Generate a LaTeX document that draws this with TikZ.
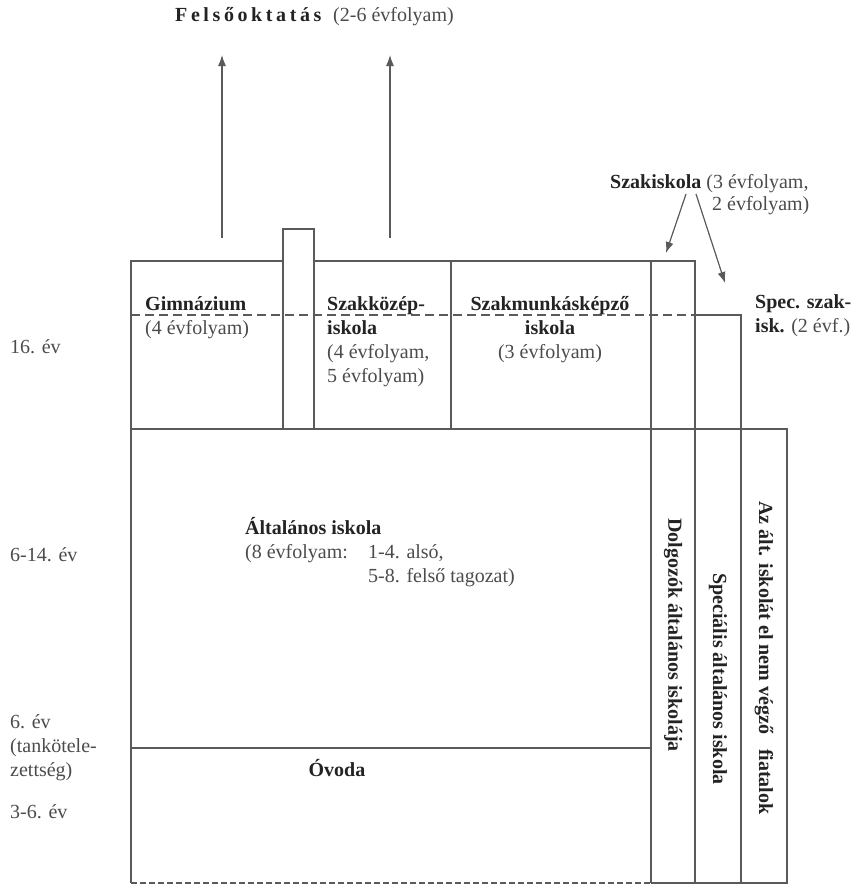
\documentclass[tikz,border=0pt]{standalone}
\usepackage{fontspec}
\setmainfont{Liberation Serif}
\newfontfamily\spacedfont[LetterSpace=18]{Liberation Serif}
\usetikzlibrary{arrows.meta}
\definecolor{linegray}{RGB}{90,90,90}
\definecolor{txtgray}{RGB}{75,75,75}
\definecolor{txtdark}{RGB}{35,35,35}
\begin{document}
\begin{tikzpicture}[x=1pt,y=-1pt,
  ln/.style={draw=linegray, line width=1.2pt},
  dashline/.style={draw=linegray, line width=1.2pt, dash pattern=on 9pt off 5pt},
  dashbottom/.style={draw=linegray, line width=1.2pt, dash pattern=on 6pt off 3pt},
  arr/.style={draw=linegray, line width=1.2pt, -{Latex[length=11pt,width=8pt]}},
  t/.style={inner sep=0pt, font=\fontsize{20}{24}\selectfont, text=txtgray},
  tb/.style={inner sep=0pt, font=\fontsize{20}{24}\selectfont\bfseries, text=txtdark},
  lw/.style={anchor=base west},
  lc/.style={anchor=base}]
\useasboundingbox (0,0) rectangle (853,886);
% ---- boxes ----
% Gimnazium
\draw[ln] (131,429) -- (131,261) -- (283,261);
% narrow box
\draw[ln] (283,429) -- (283,229) -- (314,229) -- (314,429);
% Szakkozep, Szakmunkas, Dolgozok top
\draw[ln] (314,261) -- (695,261) -- (695,883);
\draw[ln] (451,261) -- (451,429);
\draw[ln] (651,261) -- (651,883);
% dashed line across the upper boxes
\draw[dashline] (131,315) -- (695,315);
\draw[ln] (695,315) -- (741,315) -- (741,883);
% lower block
\draw[ln] (131,429) -- (787,429) -- (787,883) -- (651,883);
\draw[ln] (131,429) -- (131,883);
\draw[ln] (131,748) -- (651,748);
\draw[dashbottom] (131,883) -- (651,883);
% ---- arrows up ----
\coordinate (g0) at (222,238);
\coordinate (g1) at (222,55);
\coordinate (s0) at (390,238);
\coordinate (s1) at (390,55);
\draw[arr] (g0) -- (g1);
\draw[arr] (s0) -- (s1);
% ---- title ----
\node[tb,lw] (felso) at (175,21) {\spacedfont\bfseries Felsőoktatás};
\node[t,lw] (felsoev) at (333,21) {(2-6 évfolyam)};
% ---- Szakiskola ----
\node[t,lw] (szakisk) at (610,188) {\textbf{\textcolor{txtdark}{Szakiskola}} (3 évfolyam,};
\node[t,lw] (szakisk2) at (712,210) {2 évfolyam)};
\coordinate (a0) at (686,194);
\coordinate (a1) at (666,253);
\coordinate (b0) at (696,194);
\coordinate (b1) at (725,283);
\draw[arr] (a0) -- (a1);
\draw[arr] (b0) -- (b1);
% ---- Spec. szak ----
\node[tb,lw] (spec1) at (755,308) {Spec. szak-};
\node[t,lw] (spec2) at (755,332) {\textbf{\textcolor{txtdark}{isk.}} (2 évf.)};
% ---- upper box texts ----
\node[tb,lw] (gim1) at (145,310) {Gimnázium};
\node[t,lw] (gim2) at (145,334) {(4 évfolyam)};
\node[tb,lw] (szk1) at (327,310) {Szakközép-};
\node[tb,lw] (szk2) at (327,334) {iskola};
\node[t,lw] (szk3) at (327,358) {(4 évfolyam,};
\node[t,lw] (szk4) at (327,382) {5 évfolyam)};
\node[tb,lc] (szm1) at (550,310) {Szakmunkásképző};
\node[tb,lc] (szm2) at (550,334) {iskola};
\node[t,lc] (szm3) at (550,358) {(3 évfolyam)};
% ---- Altalanos iskola ----
\node[tb,lw] (alt1) at (245,534) {Általános iskola};
\node[t,lw] (alt2) at (245,558) {(8 évfolyam:};
\node[t,lw] (alt3) at (368,558) {1-4. alsó,};
\node[t,lw] (alt4) at (368,582) {5-8. felső tagozat)};
% ---- Ovoda ----
\node[tb,lc] (ovoda) at (337,776) {Óvoda};
% ---- left age labels ----
\node[t,lw] (ev16) at (10,353) {16. év};
\node[t,lw] (ev614) at (10,561) {6-14. év};
\node[t,lw] (ev6a) at (10,728) {6. év};
\node[t,lw] (ev6b) at (10,752) {(tankötele-};
\node[t,lw] (ev6c) at (10,776) {zettség)};
\node[t,lw] (ev36) at (10,818) {3-6. év};
% ---- vertical column texts ----
\node[tb,rotate=-90] (dolg) at (673,635) {Dolgozók általános iskolája};
\node[tb,rotate=-90] (spec) at (718,679) {Speciális általános iskola};
\node[tb,rotate=-90] (azalt) at (764,658) {Az ált. iskolát el nem végző\ \ \ fiatalok};
\end{tikzpicture}
\end{document}
